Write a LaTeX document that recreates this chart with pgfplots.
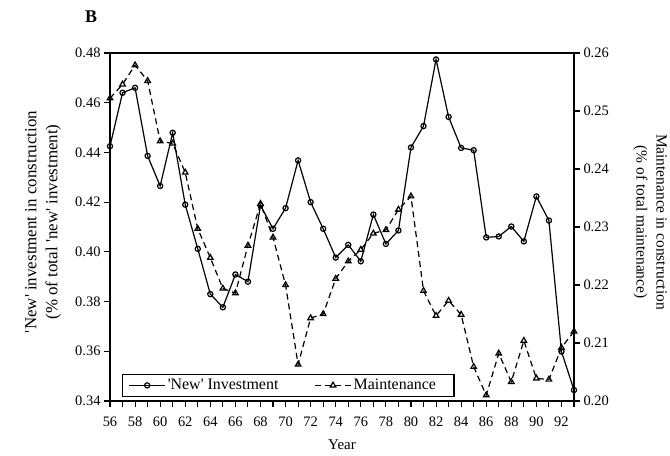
\documentclass[border=0pt]{standalone}
\usepackage{fontspec}
\setmainfont{Liberation Serif}
\usepackage{pgfplots}
\pgfplotsset{compat=1.18}
\newcommand{\q}{\textquotesingle}
\pgfplotstableread{
x y
56 0.4425
57 0.4640
58 0.4660
59 0.4386
60 0.4265
61 0.4479
62 0.4190
63 0.4012
64 0.3830
65 0.3777
66 0.3909
67 0.3880
68 0.4187
69 0.4093
70 0.4176
71 0.4368
72 0.4200
73 0.4093
74 0.3977
75 0.4028
76 0.3962
77 0.4150
78 0.4032
79 0.4086
80 0.4420
81 0.4506
82 0.4774
83 0.4543
84 0.4418
85 0.4409
86 0.4058
87 0.4062
88 0.4102
89 0.4042
90 0.4223
91 0.4126
92 0.3599
93 0.3444
}\newinv
\pgfplotstableread{
x y
56 0.2522
57 0.2546
58 0.2579
59 0.2552
60 0.2448
61 0.2444
62 0.2394
63 0.2297
64 0.2247
65 0.2194
66 0.2186
67 0.2268
68 0.2340
69 0.2282
70 0.2200
71 0.2063
72 0.2143
73 0.2150
74 0.2211
75 0.2241
76 0.2261
77 0.2289
78 0.2295
79 0.2330
80 0.2353
81 0.2190
82 0.2147
83 0.2173
84 0.2149
85 0.2059
86 0.2010
87 0.2082
88 0.2033
89 0.2104
90 0.2039
91 0.2037
92 0.2092
93 0.2120
}\maint
\begin{document}
\begin{tikzpicture}
\pgfplotsset{
  common/.style={width=464bp,height=348bp,scale only axis,xmin=56,xmax=93,
    axis line style={line width=1.8bp},
    tick style={line width=1.1bp,black},
    tick align=outside, major tick length=6bp, minor tick length=6bp,
    tick label style={font=\fontsize{14.5}{16}\selectfont},
    /pgf/number format/assume math mode=true,
    yticklabel style={/pgf/number format/.cd,fixed,fixed zerofill,precision=2},
  },
  newstyle/.style={black, line width=1.2bp, mark=o, mark size=2.6bp, mark options={solid}},
  maintstyle/.style={black, line width=1.2bp, dash pattern=on 6bp off 4bp, mark=triangle, mark size=3.2bp, mark options={solid}},
}
\begin{axis}[common, name=ax, ymin=0.34, ymax=0.48,
  xtick={56,58,...,92}, minor xtick={57,59,...,93}, xtick pos=bottom, ytick pos=left,
  ytick={0.34,0.36,0.38,0.40,0.42,0.44,0.46,0.48},
  xticklabel style={yshift=-6bp},
]
\addplot[newstyle] table[x=x,y=y] {\newinv};
\end{axis}
\begin{axis}[common, ymin=0.20, ymax=0.26,
  axis y line*=right, axis x line=none,
  ytick={0.20,0.21,0.22,0.23,0.24,0.25,0.26},
  legend columns=-1,
  legend style={at={(axis description cs:0,0)}, anchor=south west, xshift=12bp, yshift=4bp,
    draw=black, line width=1.2bp, fill=white, font=\fontsize{16}{18}\selectfont,
    inner xsep=6bp, inner ysep=3bp,
    /tikz/every even column/.append style={column sep=34bp}},
  legend image code/.code={\draw[mark repeat=2,mark phase=2,#1] plot coordinates {(0bp,0bp) (18bp,0bp) (36bp,0bp)};},
]
\addlegendimage{newstyle}
\addlegendentry{\q New\q\ Investment}
\addplot[maintstyle] table[x=x,y=y] {\maint};
\addlegendentry{Maintenance\rule{10bp}{0bp}}
\end{axis}
\node[rotate=90, align=center, font=\fontsize{17}{21}\selectfont] at ([shift={(-67bp,179bp)}]ax.south west)
  {\q New\q\ investment in construction\\(\% of total \q new\q\ investment)};
\node[rotate=-90, align=center, font=\fontsize{15.5}{20}\selectfont] at ([shift={(540bp,179bp)}]ax.south west)
  {Maintenance in construction\\(\% of total maintenance)};
\node[font=\fontsize{18}{19}\selectfont\bfseries] at ([shift={(-19bp,384bp)}]ax.south west) {B};
\node[font=\fontsize{15}{16}\selectfont] at ([shift={(232bp,-44bp)}]ax.south west) {Year};
\pgfresetboundingbox
\path[use as bounding box] ([shift={(-110bp,-55bp)}]ax.south west) rectangle ([shift={(96bp,53bp)}]ax.north east);
\end{tikzpicture}
\end{document}
